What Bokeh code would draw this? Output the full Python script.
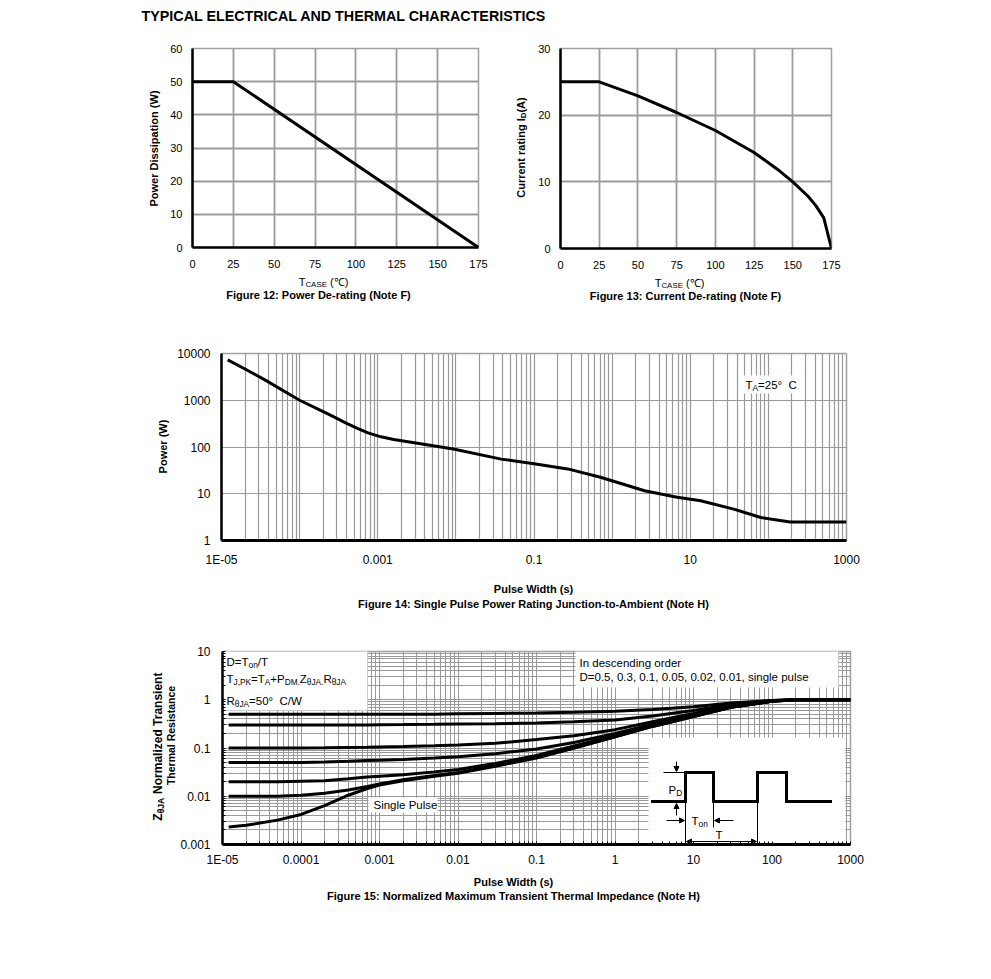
import math
from bokeh.plotting import figure
from bokeh.models import Range1d, FixedTicker, Label, BoxAnnotation, Arrow, NormalHead
from bokeh.layouts import column, row
from bokeh.embed import file_html
from bokeh.resources import INLINE

FONT = "Liberation Sans"
NB = "\u00a0"

# ---------------- data ----------------
# Figure 12: power de-rating
temp12 = [0, 25, 175]
power12 = [50, 50, 0]
x12_ticks = [0, 25, 50, 75, 100, 125, 150, 175]
y12_ticks = [0, 10, 20, 30, 40, 50, 60]

# Figure 13: current de-rating
temp13 = [0, 25, 50, 75, 100, 125, 140, 150, 160, 165, 170, 175]
current13 = [25, 25, 22.9, 20.4, 17.7, 14.4, 11.9, 10.0, 7.8, 6.4, 4.6, 0]
x13_ticks = [0, 25, 50, 75, 100, 125, 150, 175]
y13_ticks = [0, 10, 20, 30]

# Figure 14: single pulse power rating
pulse14 = [1.2e-5, 2e-5, 3.5e-5, 1e-4, 2.3e-4, 4e-4, 5.5e-4, 7.5e-4, 1.1e-3, 1.6e-3, 2.8e-3,
           9.3e-3, 0.038, 0.1, 0.27, 0.71, 2.6, 6.8, 13.6, 36, 80, 190, 1000]
power14 = [7300, 4650, 2800, 1000, 510, 320, 250, 200, 165, 145, 125,
           91, 55, 44, 34, 22.5, 11.6, 8.4, 7.1, 4.7, 3.1, 2.5, 2.5]
x14_labels = {1e-05: "1E-05", 0.001: "0.001", 0.1: "0.1", 10.0: "10", 1000.0: "1000"}
y14_labels = {1.0: "1", 10.0: "10", 100.0: "100", 1000.0: "1000", 10000.0: "10000"}

# Figure 15: normalized transient thermal impedance
pulse15 = [1.2e-5, 2e-5, 5e-5, 1e-4, 2e-4, 4e-4, 7e-4, 1e-3, 2e-3, 5e-3, 1e-2, 3e-2,
           0.1, 0.3, 1, 3, 10, 30, 100, 200, 1000]
z_d050 = [0.50, 0.50, 0.50, 0.50, 0.50, 0.50, 0.50, 0.50, 0.50, 0.50, 0.51, 0.52,
          0.53, 0.55, 0.58, 0.63, 0.72, 0.86, 0.97, 1.0, 1.0]
z_d030 = [0.30, 0.30, 0.30, 0.30, 0.30, 0.30, 0.30, 0.305, 0.307, 0.31, 0.315, 0.32,
          0.33, 0.35, 0.38, 0.46, 0.60, 0.80, 0.96, 1.0, 1.0]
z_d010 = [0.10, 0.10, 0.10, 0.10, 0.101, 0.103, 0.104, 0.105, 0.107, 0.111, 0.115, 0.125,
          0.15, 0.18, 0.24, 0.35, 0.52, 0.75, 0.95, 1.0, 1.0]
z_d005 = [0.050, 0.050, 0.050, 0.050, 0.051, 0.053, 0.055, 0.056, 0.058, 0.062, 0.066, 0.076,
          0.095, 0.13, 0.20, 0.31, 0.48, 0.72, 0.94, 1.0, 1.0]
z_d002 = [0.020, 0.020, 0.020, 0.0205, 0.021, 0.023, 0.025, 0.026, 0.028, 0.032, 0.036, 0.048,
          0.070, 0.11, 0.18, 0.29, 0.46, 0.70, 0.93, 1.0, 1.0]
z_d001 = [0.010, 0.010, 0.010, 0.0105, 0.0115, 0.0135, 0.016, 0.018, 0.022, 0.027, 0.031, 0.043,
          0.064, 0.10, 0.17, 0.28, 0.45, 0.70, 0.93, 1.0, 1.0]
z_single = [0.0023, 0.0025, 0.0032, 0.0042, 0.0064, 0.0105, 0.0145, 0.017, 0.021, 0.026, 0.030, 0.042,
            0.062, 0.10, 0.17, 0.28, 0.45, 0.70, 0.93, 1.0, 1.0]
x15_labels = {1e-05: "1E-05", 0.0001: "0.0001", 0.001: "0.001", 0.01: "0.01", 0.1: "0.1",
              1.0: "1", 10.0: "10", 100.0: "100", 1000.0: "1000"}
y15_labels = {0.001: "0.001", 0.01: "0.01", 0.1: "0.1", 1.0: "1", 10.0: "10"}

# ---------------- helpers ----------------
W = {' ': .278, NB: .278, '(': .333, ')': .333, '.': .278, ',': .278, '-': .333, '=': .584, '+': .584,
     '/': .278, ':': .278, '°': .4, '℃': 1.0, 'θ': .556,
     'A': .667, 'B': .667, 'C': .722, 'D': .722, 'E': .667, 'F': .611, 'G': .778, 'H': .722,
     'I': .278, 'J': .5, 'K': .667, 'L': .556, 'M': .833, 'N': .722, 'O': .778, 'P': .667,
     'R': .722, 'S': .667, 'T': .611, 'U': .722, 'W': .944, 'Y': .667, 'Z': .611,
     'a': .556, 'b': .556, 'c': .5, 'd': .556, 'e': .556, 'f': .278, 'g': .556, 'h': .556,
     'i': .222, 'j': .222, 'k': .5, 'l': .222, 'm': .833, 'n': .556, 'o': .556, 'p': .556,
     'r': .333, 's': .5, 't': .278, 'u': .556, 'v': .5, 'w': .722, 'x': .5, 'y': .5, 'z': .5}
WB = dict(W)
WB.update({':': .333, 'A': .722, 'B': .722, 'J': .556, 'L': .611,
           'a': .556, 'b': .611, 'c': .556, 'd': .611, 'e': .556, 'f': .333, 'g': .611, 'h': .611,
           'i': .278, 'j': .278, 'k': .556, 'l': .278, 'm': .889, 'n': .611, 'o': .611, 'p': .611,
           'r': .389, 's': .556, 't': .333, 'u': .611, 'v': .556, 'w': .778, 'x': .556, 'y': .556})


def text_w(s, size, bold=False):
    table = WB if bold else W
    return sum(table.get(c, .556) for c in s) * size


def rich(p, FL, FB, px, py, parts, size=11, bold=False, align="left", angle=0.0, sub_scale=0.72):
    """Place a run of text pieces (some subscripted); px, py are page pixels."""
    widths = [text_w(t, size * sub_scale if sub else size, bold) for t, sub in parts]
    total = sum(widths)
    cum = {"left": 0.0, "center": -total / 2, "right": -total}[align]
    for (t, sub), w in zip(parts, widths):
        s = size * sub_scale if sub else size
        off = size * 0.3 if sub else 0.0
        core = t.strip(" ")
        lead = text_w(t[:len(t) - len(t.lstrip(" "))], s, bold)
        mid = cum + lead + text_w(core, s, bold) / 2
        if angle == 0:
            x, y = px + mid, py + off
        else:
            x, y = px + off, py - mid
        p.add_layout(Label(x=x - FL, y=FB - y, x_units="screen", y_units="screen", text=core,
                           text_align="center", text_baseline="middle", angle=angle,
                           text_font=FONT, text_font_size=f"{s:.1f}px",
                           text_font_style="bold" if bold else "normal", text_color="black"))
        cum += w


def box(p, FL, FB, x0, y0, x1, y1):
    p.add_layout(BoxAnnotation(left=x0 - FL, right=x1 - FL, top=FB - y0, bottom=FB - y1,
                               left_units="screen", right_units="screen",
                               top_units="screen", bottom_units="screen",
                               fill_color="white", fill_alpha=1.0, line_color=None,
                               level="underlay"))


def head():
    return NormalHead(size=5, fill_color="black", line_color="black", line_width=1)


def seg(p, FL, FB, x0, y0, x1, y1, width=1.0, head_start=False, head_end=False, cap="butt"):
    p.add_layout(Arrow(x_start=x0 - FL, y_start=FB - y0, x_end=x1 - FL, y_end=FB - y1,
                       start_units="screen", end_units="screen",
                       start=head() if head_start else None,
                       end=head() if head_end else None,
                       line_color="black", line_width=width, line_cap=cap))


def text_fig(x0, y0, w, h):
    """A blank panel (page region x0..x0+w, y0..y0+h) that only carries texts."""
    p = figure(width=w, height=h, x_range=Range1d(0, w), y_range=Range1d(0, h),
               x_axis_location=None, y_axis_location=None, min_border=0, frame_align=False,
               output_backend="svg", toolbar_location=None, tools="")
    p.grid.visible = False
    p.outline_line_color = None
    p.background_fill_color = "white"
    p.border_fill_color = "white"
    return p, x0, y0 + h


def make_fig(width, height, xr, yr, bl, br, bt, bb, xtype="linear", ytype="linear"):
    p = figure(width=width, height=height, x_range=xr, y_range=yr,
               x_axis_type=xtype, y_axis_type=ytype, frame_align=False,
               output_backend="svg", toolbar_location=None, tools="",
               min_border_left=bl, min_border_right=br, min_border_top=bt, min_border_bottom=bb)
    p.background_fill_color = "white"
    p.border_fill_color = "white"
    p.outline_line_color = "#a0a0a0"
    p.outline_line_width = 1.5
    return p


def style_axis(ax, size, standoff, lw):
    ax.axis_line_color = "black"
    ax.axis_line_width = lw
    ax.major_tick_out = 0
    ax.major_tick_in = 0
    ax.minor_tick_out = 0
    ax.minor_tick_in = 0
    ax.major_label_text_font = FONT
    ax.major_label_text_font_size = f"{size}px"
    ax.major_label_text_color = "black"
    ax.major_label_standoff = standoff
    ax.axis_label = None


def decade_all(lo, hi):
    out = []
    for d in range(lo, hi):
        for k in range(1, 10):
            out.append(k * 10.0 ** d)
    out.append(10.0 ** hi)
    return out


# ---------------- page title ----------------
t_title, L, B = text_fig(0, 0, 870, 30)
rich(t_title, L, B, 141, 15, [("TYPICAL ELECTRICAL AND THERMAL CHARACTERISTICS", False)], size=14.3, bold=True)

# ---------------- Figure 12 ----------------
F12L, F12B = 192, 247
p12 = make_fig(330, 244, Range1d(0, 175), Range1d(0, 60), 27, 17, 18, 27)
p12.xaxis.ticker = FixedTicker(ticks=x12_ticks)
p12.yaxis.ticker = FixedTicker(ticks=y12_ticks)
for g in (p12.xgrid, p12.ygrid):
    g.grid_line_color = "#9c9c9c"
    g.grid_line_width = 1.8
style_axis(p12.xaxis[0], 11, 12, 2.5)
style_axis(p12.yaxis[0], 11, 10, 2.5)
p12.line(temp12, power12, line_color="black", line_width=3)

t12l, L, B = text_fig(0, 30, 165, 244)
rich(t12l, L, B, 153, 148, [("Power Dissipation (W)", False)], size=11, bold=True, align="center", angle=math.pi / 2)
t12b, L, B = text_fig(0, 274, 495, 36)
rich(t12b, L, B, 323, 281, [("T", False), ("CASE", True), (" (℃)", False)], size=11, align="center")
rich(t12b, L, B, 318, 294, [("Figure 12: Power De-rating (Note F)", False)], size=11, bold=True, align="center")

# ---------------- Figure 13 ----------------
F13L, F13B = 560, 248
p13 = make_fig(325, 244, Range1d(0, 175), Range1d(0, 30), 30, 24, 18, 26)
p13.xaxis.ticker = FixedTicker(ticks=x13_ticks)
p13.yaxis.ticker = FixedTicker(ticks=y13_ticks)
for g in (p13.xgrid, p13.ygrid):
    g.grid_line_color = "#9c9c9c"
    g.grid_line_width = 1.8
style_axis(p13.xaxis[0], 11, 12, 2.5)
style_axis(p13.yaxis[0], 11, 10, 2.5)
p13.line(temp13, current13, line_color="black", line_width=3)

t13l, L, B = text_fig(495, 30, 35, 244)
rich(t13l, L, B, 520, 147, [("Current rating I", False), ("D", True), ("(A)", False)], size=11, bold=True, align="center", angle=math.pi / 2)
t13b, L, B = text_fig(495, 274, 360, 36)
rich(t13b, L, B, 679, 282, [("T", False), ("CASE", True), (" (℃)", False)], size=11, align="center")
rich(t13b, L, B, 685, 295, [("Figure 13: Current De-rating (Note F)", False)], size=11, bold=True, align="center")

# ---------------- Figure 14 ----------------
F14L, F14B = 221, 540
p14 = make_fig(698, 262, Range1d(1e-5, 1000), Range1d(1, 10000), 49, 24, 43, 32, xtype="log", ytype="log")
p14.xaxis.ticker = FixedTicker(ticks=list(x14_labels.keys()))
p14.yaxis.ticker = FixedTicker(ticks=list(y14_labels.keys()))
p14.xaxis.major_label_overrides = x14_labels
p14.yaxis.major_label_overrides = y14_labels
p14.xgrid.ticker = FixedTicker(ticks=decade_all(-5, 3))
p14.ygrid.ticker = FixedTicker(ticks=list(y14_labels.keys()))
for g in (p14.xgrid, p14.ygrid):
    g.grid_line_color = "#999999"
    g.grid_line_width = 1.2
style_axis(p14.xaxis[0], 12, 12, 3)
style_axis(p14.yaxis[0], 12, 11, 2.5)
p14.line(pulse14, power14, line_color="black", line_width=3)
box(p14, F14L, F14B, 742, 375, 802, 393)
rich(p14, F14L, F14B, 745, 384, [("T", False), ("A", True), ("=25°" + NB + " C", False)], size=11.5)

t14l, L, B = text_fig(0, 310, 172, 262)
rich(t14l, L, B, 162, 446, [("Power (W)", False)], size=11, bold=True, align="center", angle=math.pi / 2)
t14b, L, B = text_fig(0, 572, 870, 48)
rich(t14b, L, B, 533, 588, [("Pulse Width (s)", False)], size=11, bold=True, align="center")
rich(t14b, L, B, 533, 603, [("Figure 14: Single Pulse Power Rating Junction-to-Ambient (Note H)", False)], size=11, bold=True, align="center")

# ---------------- Figure 15 ----------------
F15L, F15B = 222, 844
p15 = make_fig(693, 250, Range1d(1e-5, 1000), Range1d(0.001, 10), 45, 20, 31, 26, xtype="log", ytype="log")
p15.xaxis.ticker = FixedTicker(ticks=list(x15_labels.keys()), minor_ticks=decade_all(-5, 3))
p15.yaxis.ticker = FixedTicker(ticks=list(y15_labels.keys()), minor_ticks=decade_all(-3, 1))
p15.xaxis.major_label_overrides = x15_labels
p15.yaxis.major_label_overrides = y15_labels
p15.xgrid.ticker = FixedTicker(ticks=decade_all(-5, 3))
p15.ygrid.ticker = FixedTicker(ticks=decade_all(-3, 1))
for g in (p15.xgrid, p15.ygrid):
    g.grid_line_color = "#999999"
    g.grid_line_width = 1.0
style_axis(p15.xaxis[0], 12, 8, 3)
style_axis(p15.yaxis[0], 12, 12, 2.5)
for ax in (p15.xaxis[0], p15.yaxis[0]):
    ax.minor_tick_in = 3
    ax.minor_tick_line_color = "black"
for zs in (z_d050, z_d030, z_d010, z_d005, z_d002, z_d001, z_single):
    p15.line(pulse15, zs, line_color="black", line_width=3)

box(p15, F15L, F15B, 222, 650, 367, 710)
rich(p15, F15L, F15B, 226, 661, [("D=T", False), ("on", True), ("/T", False)], size=11.5)
rich(p15, F15L, F15B, 226, 678, [("T", False), ("J,PK", True), ("=T", False), ("A", True), ("+P", False),
                                 ("DM.", True), ("Z", False), ("θJA.", True), ("R", False), ("θJA", True)], size=11.5)
rich(p15, F15L, F15B, 226, 700, [("R", False), ("θJA", True), ("=50°" + NB + " C/W", False)], size=11.5)

box(p15, F15L, F15B, 575, 650, 838, 687)
rich(p15, F15L, F15B, 579, 662, [("In descending order", False)], size=11.5)
rich(p15, F15L, F15B, 579, 676, [("D=0.5, 0.3, 0.1, 0.05, 0.02, 0.01, single pulse", False)], size=11.5)

box(p15, F15L, F15B, 368, 797, 437, 812)
rich(p15, F15L, F15B, 373, 804, [("Single Pulse", False)], size=11.5)

# inset: pulse train diagram
box(p15, F15L, F15B, 648, 737, 845, 844)
path = [(652, 801), (685, 801), (685, 772), (713, 772), (713, 801), (757, 801),
        (757, 772), (786, 772), (786, 801), (830, 801)]
for (xa, ya), (xb, yb) in zip(path[:-1], path[1:]):
    seg(p15, F15L, F15B, xa, ya, xb, yb, width=3, cap="square")
seg(p15, F15L, F15B, 663, 772, 685, 772)
seg(p15, F15L, F15B, 685, 772, 685, 844)
seg(p15, F15L, F15B, 713, 801, 713, 827)
seg(p15, F15L, F15B, 757, 801, 757, 844)
seg(p15, F15L, F15B, 676, 761, 676, 771, head_end=True)
seg(p15, F15L, F15B, 676, 815, 676, 803, head_end=True)
seg(p15, F15L, F15B, 666, 820, 684, 820, head_end=True)
seg(p15, F15L, F15B, 733, 820, 714, 820, head_end=True)
seg(p15, F15L, F15B, 686, 841, 756, 841, head_start=True, head_end=True)
rich(p15, F15L, F15B, 668, 789, [("P", False), ("D", True)], size=11.5)
rich(p15, F15L, F15B, 691, 820, [("T", False), ("on", True)], size=11.5)
rich(p15, F15L, F15B, 715, 834, [("T", False)], size=11.5)

t15l, L, B = text_fig(0, 620, 177, 250)
rich(t15l, L, B, 157, 746, [("Z", False), ("θJA", True), (" Normalized Transient", False)], size=12, bold=True, align="center", angle=math.pi / 2)
rich(t15l, L, B, 170, 735, [("Thermal Resistance", False)], size=10.5, bold=True, align="center", angle=math.pi / 2)
t15b, L, B = text_fig(0, 870, 870, 40)
rich(t15b, L, B, 513, 881, [("Pulse Width (s)", False)], size=11, bold=True, align="center")
rich(t15b, L, B, 513, 895, [("Figure 15: Normalized Maximum Transient Thermal Impedance (Note H)", False)], size=11, bold=True, align="center")

layout = column(
    t_title,
    row(column(row(t12l, p12), t12b), column(row(t13l, p13), t13b)),
    column(row(t14l, p14), t14b),
    column(row(t15l, p15), t15b),
)
open("out.html", "w").write(file_html(layout, INLINE))
